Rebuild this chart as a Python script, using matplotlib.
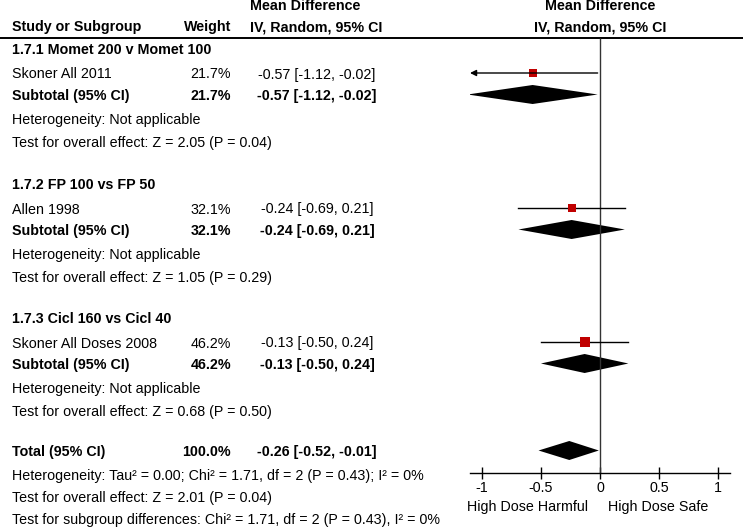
import matplotlib
matplotlib.use("Agg")
import matplotlib.pyplot as plt
import numpy as np

plt.rcParams['font.family'] = ['Liberation Sans', 'DejaVu Sans']

# ---- data ----
groups = ["1.7.1 Momet 200 v Momet 100", "1.7.2 FP 100 vs FP 50", "1.7.3 Cicl 160 vs Cicl 40"]
studies = ["Skoner All 2011", "Allen 1998", "Skoner All Doses 2008"]
weights = [21.7, 32.1, 46.2]
md = [-0.57, -0.24, -0.13]
ci_lo = [-1.12, -0.69, -0.50]
ci_hi = [-0.02, 0.21, 0.24]
z_vals = [2.05, 1.05, 0.68]
p_vals = [0.04, 0.29, 0.50]
total_weight = 100.0
total_md = -0.26
total_lo = -0.52
total_hi = -0.01
total_het = "Heterogeneity: Tau² = 0.00; Chi² = 1.71, df = 2 (P = 0.43); I² = 0%"
total_test = "Test for overall effect: Z = 2.01 (P = 0.04)"
subgroup_test = "Test for subgroup differences: Chi² = 1.71, df = 2 (P = 0.43), I² = 0%"
xticks = [-1, -0.5, 0, 0.5, 1]
xticklabels = ["-1", "-0.5", "0", "0.5", "1"]
left_label = "High Dose Harmful"
right_label = "High Dose Safe"

# ---- layout (pixels) ----
W, H = 743, 529
FS = 10.3
fig = plt.figure(figsize=(W / 100, H / 100), dpi=100)
ax = fig.add_axes([0, 0, 1, 1])
ax.set_xlim(0, W)
ax.set_ylim(H, 0)
ax.axis('off')

XMIN, XMAX = -1.1, 1.1
px_left, px_right = 470, 730
fx = fig.add_axes([px_left / W, 0, (px_right - px_left) / W, 1])
fx.set_xlim(XMIN, XMAX)
fx.set_ylim(H, 0)
fx.patch.set_visible(False)
for s in ['left', 'right', 'top']:
    fx.spines[s].set_visible(False)
AXIS_Y = 473
fx.spines['bottom'].set_position(('data', AXIS_Y))
fx.spines['bottom'].set_linewidth(1.0)
fx.set_yticks([])
fx.set_xticks(xticks)
fx.set_xticklabels(xticklabels, fontsize=FS)
fx.tick_params(axis='x', direction='inout', length=9, width=1.0, pad=1)

X_LABEL = 12
X_WEIGHT = 231
X_CI = 317
X_HEAD = 250
kw = dict(fontsize=FS, va='center')

# headers
ax.text(X_HEAD, 6.5, "Mean Difference", ha='left', fontweight='bold', **kw)
ax.text(X_LABEL, 27, "Study or Subgroup", ha='left', fontweight='bold', **kw)
ax.text(X_WEIGHT, 27, "Weight", ha='right', fontweight='bold', **kw)
ax.text(X_HEAD, 27, "IV, Random, 95% CI", ha='left', fontweight='bold', **kw)
fx.text(0, 6.5, "Mean Difference", ha='center', fontweight='bold', **kw)
fx.text(0, 27, "IV, Random, 95% CI", ha='center', fontweight='bold', **kw)
ax.plot([0, W], [38, 38], color='black', lw=1.4)

# zero line
fx.vlines(0, 38, AXIS_Y, color='#333333', lw=1.0)

group_starts = [50, 185, 319]
row_step = [0, 24.5, 46, 70, 93]
DH = 19  # diamond height in px

for i in range(len(groups)):
    y0 = group_starts[i]
    ys, yt, yh, yz = (y0 + row_step[1], y0 + row_step[2], y0 + row_step[3], y0 + row_step[4])
    ax.text(X_LABEL, y0, groups[i], ha='left', fontweight='bold', **kw)
    ax.text(X_LABEL, ys, studies[i], ha='left', **kw)
    ax.text(X_WEIGHT, ys, f"{weights[i]:.1f}%", ha='right', **kw)
    ax.text(X_CI, ys, f"{md[i]:.2f} [{ci_lo[i]:.2f}, {ci_hi[i]:.2f}]", ha='center', **kw)
    ax.text(X_LABEL, yt, "Subtotal (95% CI)", ha='left', fontweight='bold', **kw)
    ax.text(X_WEIGHT, yt, f"{weights[i]:.1f}%", ha='right', fontweight='bold', **kw)
    ax.text(X_CI, yt, f"{md[i]:.2f} [{ci_lo[i]:.2f}, {ci_hi[i]:.2f}]", ha='center', fontweight='bold', **kw)
    ax.text(X_LABEL, yh, "Heterogeneity: Not applicable", ha='left', **kw)
    ax.text(X_LABEL, yz, f"Test for overall effect: Z = {z_vals[i]:.2f} (P = {p_vals[i]:.2f})", ha='left', **kw)

    # study CI line and square
    ym = ys - 1.5
    lo_c = max(ci_lo[i], XMIN)
    if ci_lo[i] < XMIN:
        fx.annotate('', xy=(XMIN, ym), xytext=(ci_hi[i], ym),
                    arrowprops=dict(arrowstyle='-|>', color='black', lw=1.0,
                                    mutation_scale=9, shrinkA=0, shrinkB=0))
    else:
        fx.plot([lo_c, ci_hi[i]], [ym, ym], color='black', lw=1.0)
    side_px = 1.55 * np.sqrt(weights[i])
    fx.plot(md[i], ym, marker='s', ms=side_px * 0.72, color='#C00000', mec='#C00000', mew=0)

    # subtotal diamond
    yd = yt - 1.5
    fx.fill([ci_lo[i], md[i], ci_hi[i], md[i]], [yd, yd - DH / 2, yd, yd + DH / 2],
            color='black', lw=0)

# total
YT = 452
ax.text(X_LABEL, YT, "Total (95% CI)", ha='left', fontweight='bold', **kw)
ax.text(X_WEIGHT, YT, f"{total_weight:.1f}%", ha='right', fontweight='bold', **kw)
ax.text(X_CI, YT, f"{total_md:.2f} [{total_lo:.2f}, {total_hi:.2f}]", ha='center', fontweight='bold', **kw)
ax.text(X_LABEL, 476, total_het, ha='left', **kw)
ax.text(X_LABEL, 498, total_test, ha='left', **kw)
ax.text(X_LABEL, 520, subgroup_test, ha='left', **kw)
yd = YT - 1.5
fx.fill([total_lo, total_md, total_hi, total_md], [yd, yd - DH / 2, yd, yd + DH / 2],
        color='black', lw=0)

# direction labels
fx.text(-0.1, 507, left_label, ha='right', **kw)
fx.text(0.065, 507, right_label, ha='left', **kw)

fig.savefig("out.png", dpi=100)
